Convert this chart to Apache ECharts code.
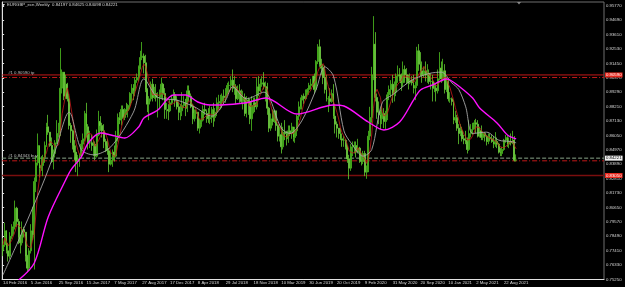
<!DOCTYPE html>
<html>
<head>
<meta charset="utf-8">
<script src="https://cdn.jsdelivr.net/npm/echarts@6/dist/echarts.min.js"></script>
<style>
  html, body { margin: 0; padding: 0; background: #000; }
  #chart { width: 625px; height: 287px; }
</style>
</head>
<body>
<div id="chart"></div>
<script>
// EURGBP weekly, prices in 1/10000 (7785 -> 0.7785), first bar = 14 Feb 2016
const firstOpen = 7740;
const close = [
  7785,7890,7740,7700,7850,7910,7920,8060,7960,7840, 7800,7900,7880,7700,7610,7740,7890,7860,8260,8400,
  8530,8360,8380,8440,8530,8670,8630,8530,8410,8470, 8550,8620,8630,8960,9080,8900,8990,8880,8680,8640,
  8530,8480,8410,8430,8450,8540,8580,8770,8670,8550, 8550,8530,8540,8450,8610,8710,8680,8640,8560,8530,
  8490,8390,8420,8480,8450,8590,8740,8720,8800,8740, 8800,8790,8830,8920,8960,8940,9020,9040,9120,9190,
  9200,9150,8950,8840,8880,8990,8890,8920,8890,8890, 8930,8990,8920,8800,8800,8790,8850,8880,8910,8870,
  8820,8780,8790,8830,8850,8810,8940,8900,8820,8730, 8770,8780,8660,8690,8720,8800,8790,8770,8730,8740,
  8800,8740,8780,8850,8850,8860,8900,8890,8920,8980, 8980,9020,8960,8970,8880,8940,8910,8860,8890,8770,
  8870,8860,8730,8830,8850,8820,8970,8940,8990,9000, 8970,8970,8810,8660,8730,8710,8790,8680,8600,8610,
  8520,8630,8620,8580,8640,8620,8670,8590,8640,8750, 8820,8870,8900,8880,8930,8950,8980,8990,9050,8950,
  9160,9270,9140,9110,9040,8950,8880,8880,8860,8920, 8750,8690,8660,8620,8580,8570,8570,8520,8430,8360,
  8520,8530,8530,8480,8510,8420,8410,8470,8330,8350, 8600,8740,9060,9290,8890,8780,8760,8730,8770,8710,
  8740,8910,8950,8990,8920,8930,9050,9060,9050,9000, 9100,9060,9030,9000,9020,9000,8960,8980,9240,9140,
  9090,9060,9090,9060,9070,9010,9010,8960,8960,8940, 9030,9110,9030,9090,8950,9010,8880,8880,8860,8720,
  8740,8660,8620,8640,8580,8570,8560,8500,8620,8650, 8690,8700,8690,8600,8640,8590,8620,8600,8560,8590,
  8580,8560,8540,8560,8540,8480,8470,8500,8570,8590, 8540,8560,8550,8570,8420,8422
];
const high = [
  7835,7950,7895,7800,7880,7940,7960,8117,8070,7980, 7860,7960,7920,7880,7710,7760,7940,8070,8290,8450,
  8620,8530,8450,8460,8560,8700,8760,8630,8590,8500, 8570,8720,8700,9260,9100,9080,9060,9000,8920,8700,
  8650,8570,8530,8460,8470,8570,8620,8790,8850,8690, 8640,8610,8570,8560,8650,8790,8750,8700,8690,8580,
  8580,8510,8480,8500,8530,8640,8770,8780,8830,8830, 8810,8850,8840,8930,8990,8990,9040,9070,9130,9240,
  9306,9220,9210,8960,8900,9010,9030,8970,8990,8930, 8950,9040,9000,8960,8850,8840,8870,8910,8950,8930,
  8900,8860,8840,8930,8900,8880,8980,8980,8920,8840, 8800,8800,8780,8730,8790,8830,8850,8800,8810,8830,
  8820,8850,8810,8890,8910,8910,8920,8950,8960,9000, 9010,9050,9100,9050,8990,8980,8990,8950,8940,8920,
  8900,8890,8880,8900,8890,8890,9040,9050,9030,9050, 9080,9010,9000,8820,8770,8800,8800,8790,8690,8670,
  8700,8670,8720,8640,8680,8680,8700,8670,8670,8760, 8860,8890,8910,8920,8950,8960,9000,9030,9050,9070,
  9170,9290,9325,9180,9140,9130,9060,8900,8960,8950, 8990,8840,8710,8660,8660,8620,8600,8580,8530,8460,
  8540,8560,8560,8560,8580,8520,8470,8490,8490,8380, 8640,8820,9120,9500,9380,8920,8860,8800,8830,8810,
  8790,8930,8980,9020,9060,9010,9070,9130,9110,9070, 9160,9130,9110,9060,9070,9050,9060,9010,9270,9290,
  9230,9160,9120,9160,9140,9100,9070,9060,9000,8990, 9100,9230,9160,9180,9140,9040,9030,8930,8890,8870,
  8790,8760,8690,8690,8670,8610,8640,8590,8720,8690, 8700,8720,8730,8720,8670,8680,8630,8630,8610,8620,
  8620,8610,8600,8630,8590,8550,8510,8520,8580,8610, 8600,8590,8620,8640,8600,8463
];
const low = [
  7700,7770,7720,7660,7680,7830,7860,7900,7920,7790, 7720,7780,7840,7660,7580,7590,7720,7820,7600,8180,
  8380,8290,8340,8300,8400,8520,8610,8520,8400,8350, 8440,8540,8590,8600,8920,8870,8880,8860,8650,8550,
  8500,8420,8330,8300,8370,8440,8500,8560,8590,8500, 8510,8490,8450,8420,8440,8600,8640,8590,8510,8480,
  8460,8330,8380,8370,8410,8440,8560,8690,8680,8730, 8720,8760,8740,8800,8850,8870,8900,9000,9010,9100,
  9170,9070,8930,8780,8720,8860,8860,8880,8860,8740, 8800,8880,8870,8730,8730,8720,8780,8840,8870,8820,
  8800,8720,8720,8750,8810,8750,8780,8860,8810,8690, 8710,8730,8640,8620,8670,8710,8760,8700,8700,8690,
  8700,8670,8710,8750,8800,8800,8810,8850,8850,8910, 8930,8960,8930,8910,8840,8870,8850,8840,8800,8750,
  8740,8760,8690,8640,8770,8780,8800,8900,8930,8970, 8950,8860,8760,8630,8640,8680,8700,8640,8560,8560,
  8470,8500,8570,8530,8550,8600,8580,8560,8550,8600, 8720,8800,8800,8840,8870,8910,8910,8950,8970,8920,
  8940,9140,9120,9060,8990,8920,8860,8780,8830,8850, 8730,8620,8590,8580,8570,8520,8520,8500,8400,8277,
  8340,8450,8470,8440,8470,8400,8380,8390,8300,8280, 8330,8570,8700,9020,8860,8730,8690,8650,8690,8660,
  8650,8720,8870,8890,8850,8860,8900,9000,9010,8940, 8970,9000,8990,8950,8990,8980,8920,8870,8960,9090,
  9050,9000,9040,9010,9000,8990,8950,8860,8930,8860, 8920,9020,9000,9010,8920,8930,8860,8850,8830,8690,
  8700,8640,8540,8600,8560,8540,8540,8470,8490,8590, 8610,8650,8620,8590,8590,8570,8570,8560,8530,8540,
  8560,8550,8510,8520,8510,8470,8450,8450,8490,8550, 8520,8510,8530,8540,8410,8410
];

// slow moving averages: [week, price]
const greyMA = [
  [0,0.7560],[8,0.7790],[16,0.8030],[24,0.8280],[30,0.8490],[38,0.8780],[45,0.8500],[52,0.8460],
  [62,0.8520],[75,0.8780],[81,0.9030],[89,0.8890],[100,0.8870],[110,0.8820],[120,0.8750],[128,0.8870],
  [132,0.8970],[140,0.8880],[150,0.8930],[160,0.8660],[165,0.8620],[172,0.8720],[180,0.8950],[185,0.9120],
  [190,0.9050],[196,0.8640],[200,0.8550],[207,0.8450],[212,0.8500],[218,0.8850],[225,0.8920],[235,0.9020],
  [245,0.9070],[252,0.9080],[258,0.9000],[262,0.8950],[266,0.8820],[270,0.8620],[278,0.8630],[285,0.8570],
  [292,0.8560],[295,0.8550]
];
const magentaMA = [
  [9,0.7521],[18,0.7649],[26,0.7994],[36,0.8271],[39,0.8346],[45,0.8444],[49,0.8549],[56,0.8624],
  [62,0.8609],[70,0.8586],[78,0.8669],[81,0.8736],[89,0.8796],[98,0.8909],[105,0.8909],[112,0.8856],
  [119,0.8834],[125,0.8834],[140,0.8850],[151,0.8886],[169,0.8766],[190,0.8834],[196,0.8826],[210,0.8706],
  [219,0.8646],[228,0.8706],[236,0.8871],[240,0.8946],[247,0.8984],[255,0.9029],[257,0.9021],[262,0.8976],
  [270,0.8886],[274,0.8811],[284,0.8699],[290,0.8609],[295,0.8579]
];

// horizontal levels: [price, colour, dash, width, right-hand tag, left-hand note]
const levels = [
  [0.9059, '#c21818', 'solid', 1, '0.90590', '#1 0.90590 tp'],
  [0.9040, '#c21818', [5, 2, 1, 2], 1, '', ''],
  [0.8435, '#8aa58a', [4, 2], 1, '0.84221', '#1 0.84343 buy'],
  [0.8415, '#c21818', [5, 2, 1, 2], 1, '', ''],
  [0.8305, '#7a0e0e', 'solid', 1.5, '0.83050', '']
];

const priceTicks = [0.7525,0.7633,0.7741,0.7849,0.7957,0.8065,0.8173,0.8281,0.8389,0.8497,
  0.8605,0.8713,0.8821,0.8929,0.9037,0.9145,0.9253,0.9361,0.9469,0.9577];
const dateLabels = ['14 Feb 2016','5 Jun 2016','25 Sep 2016','15 Jan 2017','7 May 2017','27 Aug 2017',
  '17 Dec 2017','8 Apr 2018','29 Jul 2018','18 Nov 2018','10 Mar 2019','30 Jun 2019','20 Oct 2019',
  '9 Feb 2020','31 May 2020','20 Sep 2020','10 Jan 2021','2 May 2021','22 Aug 2021'];
const weeksPerLabel = 16;
const totalSlots = 346; // chart is shifted: empty room right of the last bar

const title = 'EURGBP_ecn,Weekly  0.84197 0.84625 0.84098 0.84221';

// build candle table [open, close, low, high]
const candles = close.map(function (c, i) {
  const o = i === 0 ? firstOpen : close[i - 1];
  return [o / 1e4, c / 1e4, low[i] / 1e4, high[i] / 1e4];
});
// fast MA (5 bars) on closes
const redMA = close.map(function (c, i) {
  const from = Math.max(0, i - 4);
  let s = 0;
  for (let k = from; k <= i; k++) s += close[k];
  return +(s / (i - from + 1) / 1e4).toFixed(5);
});

const cats = [];
for (let i = 0; i < totalSlots; i++) cats.push(String(i));

const showTick = function (i) {
  return i % weeksPerLabel === 0 && i / weeksPerLabel < dateLabels.length;
};
const txt = { color: '#d8d8d8', fontSize: 4.3, fontFamily: 'Liberation Sans' };

const levelSeries = levels.map(function (lv) {
  const tagDark = lv[1] === '#8aa58a';
  return {
    type: 'line',
    xAxisIndex: 1,
    data: [[0, lv[0]], [1, lv[0]]],
    showSymbol: false,
    silent: true,
    z: 1,
    lineStyle: { color: lv[1], type: lv[2], width: lv[3] },
    endLabel: {
      show: lv[4] !== '',
      formatter: lv[4],
      distance: 1,
      backgroundColor: tagDark ? '#f0f0f0' : '#e8281e',
      color: tagDark ? '#000000' : '#ffffff',
      fontSize: 4.3, fontFamily: 'Liberation Sans', padding: [0.5, 1]
    },
    markPoint: lv[5] === '' ? undefined : {
      silent: true,
      symbol: 'rect',
      symbolSize: 0,
      data: [{ coord: [0, lv[0]] }],
      label: {
        show: true, position: 'right', offset: [1, -2.5], formatter: lv[5],
        color: '#bdbdbd', fontSize: 4.3, fontFamily: 'Liberation Sans'
      }
    }
  };
});

const chart = echarts.init(document.getElementById('chart'), null, { renderer: 'canvas' });
chart.setOption({
  backgroundColor: '#000000',
  animation: false,
  grid: { left: 1, right: 21, top: 2, bottom: 7.5, show: true, borderColor: '#6e6e6e', borderWidth: 1 },
  xAxis: [{
    type: 'category',
    data: cats,
    boundaryGap: true,
    axisLine: { lineStyle: { color: '#e0e0e0', width: 1 } },
    axisTick: { interval: showTick, length: 2, lineStyle: { color: '#e0e0e0' } },
    axisLabel: Object.assign({}, txt, {
      interval: showTick, margin: 1.5, align: 'left',
      formatter: function (v, i) { return dateLabels[i / weeksPerLabel] || ''; }
    }),
    splitLine: { show: false }
  }, {
    type: 'value', min: 0, max: 1, show: false
  }],
  yAxis: {
    type: 'value',
    position: 'right',
    min: 0.7525,
    max: 0.9606,
    axisLine: { show: true, lineStyle: { color: '#e0e0e0' } },
    axisTick: { show: true, length: 2, customValues: priceTicks, lineStyle: { color: '#e0e0e0' } },
    axisLabel: Object.assign({}, txt, {
      margin: 2, customValues: priceTicks,
      formatter: function (v) { return v.toFixed(5); }
    }),
    splitLine: { show: false }
  },
  graphic: [
    { type: 'polygon', shape: { points: [[2, 4], [5, 4], [3.5, 6.5]] }, style: { fill: '#d8d8d8' } },
    { type: 'text', left: 7, top: 3, style: { text: title, fill: '#d8d8d8', font: '4.3px Liberation Sans' } },
    { type: 'polygon', shape: { points: [[517, 2], [521, 2], [519, 4.5]] }, style: { fill: '#8a8a8a' } }
  ],
  series: levelSeries.concat([
    {
      type: 'candlestick',
      data: candles,
      barWidth: 1.4,
      z: 2,
      itemStyle: {
        color: '#1f5a10',      // bull body: dark (black fill, lime edge)
        color0: '#e4f7cc',     // bear body: white fill
        borderColor: '#4ec21f',
        borderColor0: '#62cc30',
        borderWidth: 0.8
      }
    },
    {
      type: 'line', data: redMA, showSymbol: false, silent: true, z: 3,
      lineStyle: { color: '#c81a1a', width: 0.8 }
    },
    {
      type: 'line', data: greyMA, showSymbol: false, silent: true, smooth: 0.3, z: 3,
      lineStyle: { color: '#a8a8a8', width: 0.9 }
    },
    {
      type: 'line', data: magentaMA, showSymbol: false, silent: true, smooth: 0.3, z: 3,
      lineStyle: { color: '#ff10ff', width: 1.4 }
    }
  ])
});
</script>
</body>
</html>
